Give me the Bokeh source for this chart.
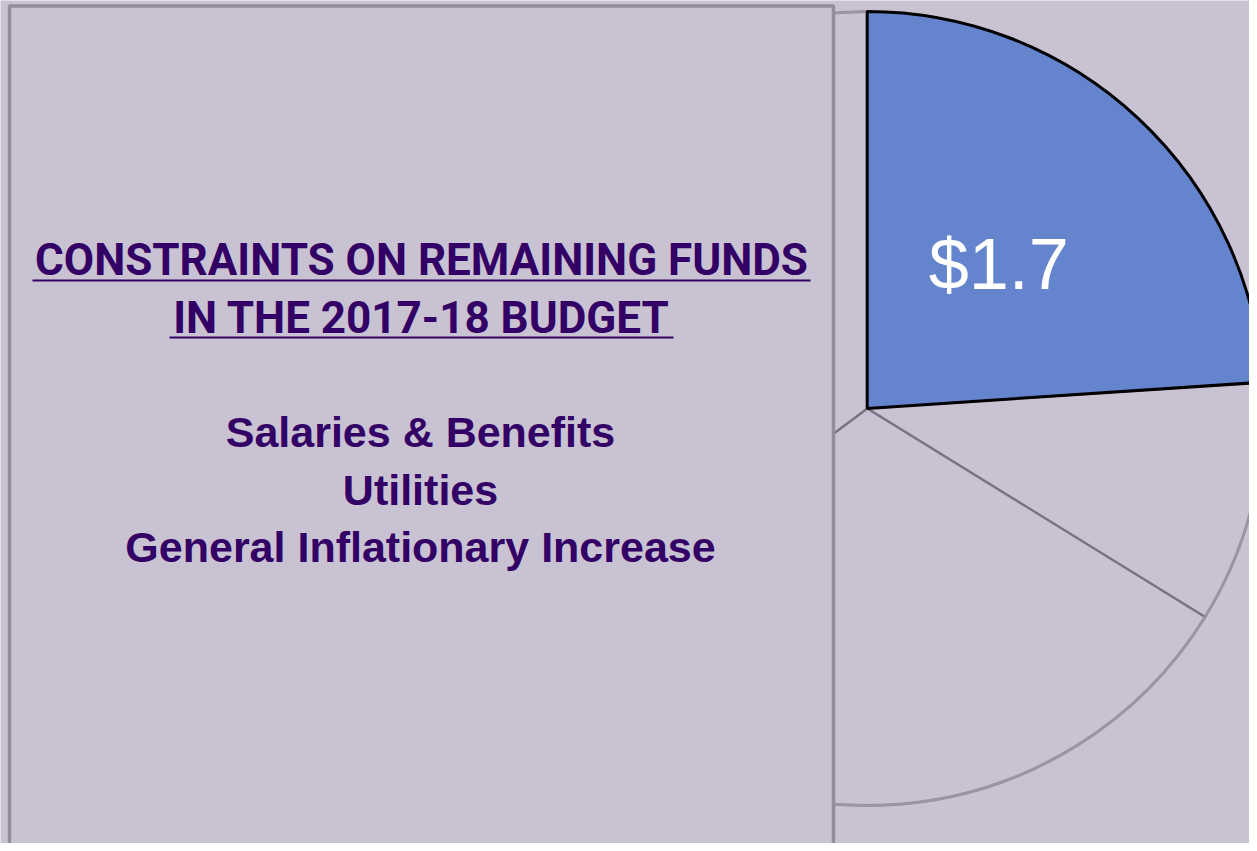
import math
from bokeh.plotting import figure
from bokeh.models import Range1d
from bokeh.embed import file_html
from bokeh.resources import INLINE
from bokeh.core.properties import value

# ---- data ----
slice_names = ["Remaining Funds", "Slice B", "Slice C", "Slice D"]
slice_values = [1.7, 0.7, 2.2, 2.5]
slice_labels = ["$1.7", "", "", ""]
slice_colors = ["#6584CE", "#C8C2D3", "#C8C2D3", "#C8C2D3"]

title_lines = ["CONSTRAINTS ON REMAINING FUNDS", "IN THE 2017-18 BUDGET"]
body_lines = ["Salaries & Benefits", "Utilities", "General Inflationary Increase"]

BG = "#C8C2D3"
TXT = "#330066"

W, H = 1249, 843
p = figure(width=W, height=H, output_backend="svg", toolbar_location=None,
           x_range=Range1d(0, W), y_range=Range1d(0, H),
           min_border=0, background_fill_color=BG, border_fill_color=BG,
           outline_line_color=None)
p.axis.visible = False
p.grid.visible = False

def sy(y):  # picture y (from top) -> data y
    return H - y

cx, cy, R = 866.7, sy(408), 397

total = sum(slice_values)
starts, ends = [], []
a = math.pi / 2
for v in slice_values:
    b = a - v / total * 2 * math.pi
    starts.append(b)
    ends.append(a)
    a = b

# non-highlighted slices
for i in range(1, len(slice_values)):
    p.wedge(x=cx, y=cy, radius=R, start_angle=starts[i], end_angle=ends[i],
            fill_color=slice_colors[i], line_color="#7A7482", line_width=2.2)
for i in range(1, len(slice_values)):
    p.arc(x=cx, y=cy, radius=R, start_angle=starts[i], end_angle=ends[i],
          line_color="#9B95A3", line_width=3)
# highlighted slice
p.wedge(x=cx, y=cy, radius=R, start_angle=starts[0], end_angle=ends[0],
        fill_color=slice_colors[0], line_color="black", line_width=3)

# slice label
for i, lab in enumerate(slice_labels):
    if lab:
        mid = (starts[i] + ends[i]) / 2
        p.text(x=[cx + 0.5 * R * math.cos(mid) - 4], y=[cy + 0.5 * R * math.sin(mid)],
               text=[lab], text_color="white", text_font=value("Liberation Sans"),
               text_font_size="72px", text_align="center", text_baseline="middle")

# overlay box
p.quad(left=9, right=833, top=sy(5.5), bottom=-20, fill_color=BG,
       line_color="#928C9C", line_width=3.5)

# title
title_y = [sy(259), sy(317.5)]
p.text(x=[421, 421], y=title_y, text=title_lines, text_color=TXT,
       text_font=value("Roboto"), text_font_style="bold",
       text_font_size="44px", text_align="center", text_baseline="middle")
p.segment(x0=[32, 169], y0=[sy(280), sy(337)], x1=[810, 673], y1=[sy(280), sy(337)],
          line_color=TXT, line_width=2)

# body
body_y = [sy(431.5), sy(489.5), sy(546.5)]
p.text(x=[420, 420, 420], y=body_y, text=body_lines, text_color=TXT,
       text_font=value("Liberation Sans"), text_font_style="bold",
       text_font_size="43px", text_align="center", text_baseline="middle")

open("out.html", "w").write(file_html(p, INLINE))
